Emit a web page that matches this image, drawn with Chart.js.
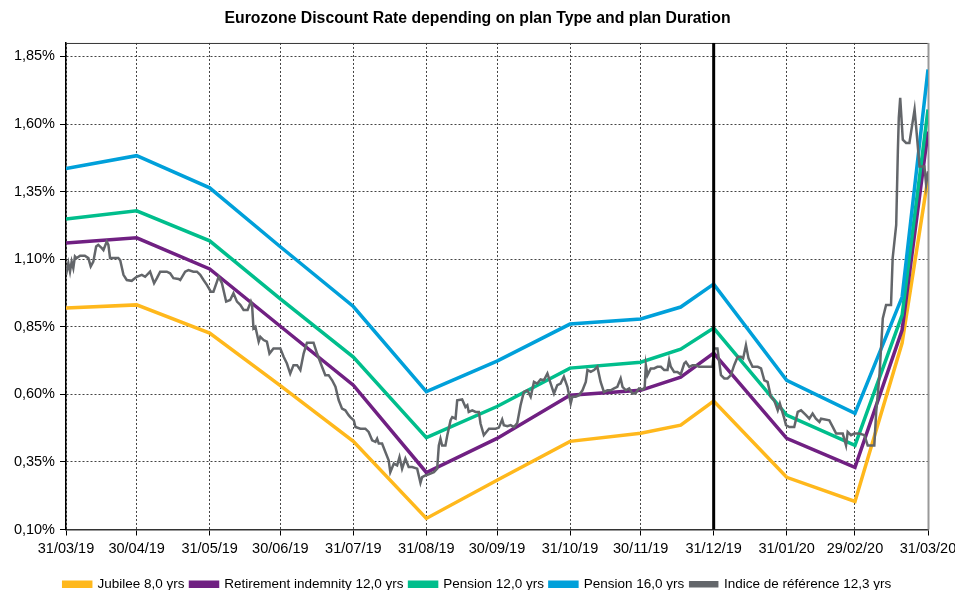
<!DOCTYPE html>
<html>
<head>
<meta charset="utf-8">
<script src="https://cdn.jsdelivr.net/npm/chart.js@4"></script>
<style>
  html, body { margin: 0; padding: 0; background: #fff; }
  #wrap { width: 955px; height: 590px; }
</style>
</head>
<body>
<div id="wrap"><canvas id="rateChart" width="955" height="590"></canvas></div>
<script>
// x values are days counted from 31/03/19
const monthDays = [0, 30, 61, 91, 122, 153, 183, 214, 244, 275, 306, 335, 366];
const monthLabels = ['31/03/19', '30/04/19', '31/05/19', '30/06/19', '31/07/19', '31/08/19', '30/09/19',
    '31/10/19', '30/11/19', '31/12/19', '31/01/20', '29/02/20', '31/03/20'];
const yTicks = [0.10, 0.35, 0.60, 0.85, 1.10, 1.35, 1.60, 1.85];
const closingDay = 275; // 31/12/19 marker

// curves by plan type
const curveDays = [0, 30, 61, 91, 122, 153, 183, 214, 244, 261, 275, 306, 335, 355, 366];
const jubilee = [0.919, 0.931, 0.827, 0.632, 0.426, 0.141, 0.282, 0.426, 0.456, 0.486, 0.575, 0.293, 0.204, 0.790, 1.401];
const retirement = [1.160, 1.179, 1.064, 0.852, 0.634, 0.311, 0.437, 0.597, 0.615, 0.664, 0.753, 0.437, 0.330, 0.838, 1.572];
const pension12 = [1.249, 1.279, 1.168, 0.953, 0.738, 0.440, 0.555, 0.697, 0.719, 0.767, 0.845, 0.523, 0.411, 0.893, 1.654];
const pension16 = [1.435, 1.483, 1.364, 1.146, 0.925, 0.610, 0.723, 0.860, 0.879, 0.923, 1.008, 0.652, 0.530, 0.960, 1.802];

// reference index (daily)
const refDays = [0, 1.0, 1.7, 2.4, 3.1, 3.8, 4.5, 6.0, 8.0, 9.5, 10.5, 11.6, 12.8, 13.7, 15.2, 15.9, 17.3, 18.0, 18.7, 22.2,
    23.0, 24.4, 25.8, 27.9, 30.0, 32.2, 33.6, 35.7, 37.4, 38.6, 40.0, 42.8, 44.2, 45.6, 47.8, 48.5, 50.6, 52.0, 54.1, 55.6,
    57.0, 58.4, 59.8, 61.5, 62.6, 64.1, 64.8, 66.2, 68.0, 69.7, 71.1, 72.6, 74.0, 75.4, 77.1, 78.5, 79.0, 79.6, 80.4, 81.8,
    82.5, 83.9, 85.3, 86.4, 88.1, 91.0, 92.4, 93.8, 95.2, 96.6, 98.1, 99.5, 100.9, 102.3, 105.1, 106.6, 108.7, 110.1, 111.5, 113.0,
    114.4, 115.8, 117.2, 118.6, 120.0, 120.7, 122.2, 122.9, 125.0, 127.1, 128.5, 130.0, 131.4, 132.1, 132.8, 134.2, 135.6, 137.0, 137.7, 139.2,
    140.6, 141.6, 142.7, 144.1, 145.5, 147.0, 149.1, 150.5, 151.2, 152.6, 154.0, 156.2, 157.6, 158.3, 159.0, 159.7, 161.1, 161.9, 163.3, 164.0,
    165.4, 166.1, 168.2, 169.6, 170.4, 171.0, 172.5, 173.9, 175.3, 176.0, 177.4, 179.6, 182.4, 183.8, 185.2, 185.9, 187.4, 188.8, 190.2, 191.6,
    193.0, 194.4, 195.9, 197.3, 198.7, 200.1, 201.5, 202.9, 204.4, 205.8, 207.2, 208.6, 210.0, 211.4, 212.9, 214.3, 215.0, 216.4, 217.8, 219.3,
    220.7, 221.4, 222.8, 224.2, 225.6, 227.0, 228.4, 229.9, 231.3, 232.7, 234.1, 235.5, 236.3, 237.7, 239.1, 240.5, 241.9, 243.3, 244.8, 245.7,
    246.2, 246.9, 248.3, 249.7, 251.1, 252.6, 254.0, 255.4, 256.1, 256.8, 258.2, 259.6, 261.0, 262.5, 263.2, 264.6, 266.0, 267.4, 268.8, 271.0,
    274.5, 275.2, 276.6, 278.1, 279.5, 280.9, 282.3, 283.7, 285.2, 286.6, 287.5, 288.7, 289.8, 291.5, 293.7, 295.1, 296.5, 297.9, 299.3, 300.7,
    302.2, 303.1, 305.0, 305.7, 307.1, 309.2, 310.7, 312.1, 314.2, 315.6, 317.0, 318.4, 319.9, 320.6, 324.1, 325.6, 327.0, 329.8, 331.2, 331.9,
    333.3, 334.7, 336.9, 339.0, 340.4, 343.2, 344.0, 345.4, 346.8, 348.2, 350.3, 351.0, 352.5, 353.2, 353.6, 354.2, 355.3, 356.7, 358.1, 360.3,
    361.0, 362.4, 364.5, 365.2, 366.0];
const refRates = [1.042, 1.085, 1.054, 1.091, 1.067, 1.110, 1.104, 1.113, 1.113, 1.104, 1.073, 1.091, 1.147, 1.153, 1.141, 1.134, 1.165, 1.153, 1.104, 1.104,
    1.097, 1.042, 1.023, 1.020, 1.035, 1.042, 1.035, 1.054, 1.011, 1.030, 1.054, 1.054, 1.048, 1.030, 1.027, 1.023, 1.054, 1.060, 1.054, 1.054,
    1.042, 1.023, 1.005, 0.980, 0.980, 1.017, 1.035, 1.011, 0.943, 0.949, 0.974, 0.943, 0.931, 0.912, 0.912, 0.943, 0.931, 0.844, 0.850, 0.795,
    0.813, 0.801, 0.795, 0.751, 0.770, 0.770, 0.739, 0.714, 0.677, 0.708, 0.708, 0.690, 0.751, 0.791, 0.791, 0.751, 0.702, 0.671, 0.671, 0.652,
    0.628, 0.578, 0.547, 0.541, 0.523, 0.516, 0.504, 0.479, 0.473, 0.473, 0.461, 0.430, 0.424, 0.436, 0.418, 0.418, 0.387, 0.356, 0.312, 0.344,
    0.337, 0.368, 0.325, 0.362, 0.331, 0.331, 0.325, 0.273, 0.294, 0.300, 0.304, 0.312, 0.325, 0.411, 0.436, 0.411, 0.411, 0.449, 0.504, 0.516,
    0.510, 0.578, 0.581, 0.553, 0.560, 0.535, 0.541, 0.535, 0.535, 0.492, 0.449, 0.473, 0.473, 0.477, 0.507, 0.486, 0.482, 0.486, 0.479, 0.494,
    0.560, 0.609, 0.615, 0.591, 0.646, 0.640, 0.655, 0.652, 0.677, 0.640, 0.603, 0.634, 0.640, 0.665, 0.628, 0.566, 0.591, 0.591, 0.597, 0.615,
    0.646, 0.690, 0.683, 0.690, 0.702, 0.646, 0.609, 0.615, 0.615, 0.622, 0.628, 0.659, 0.628, 0.615, 0.622, 0.603, 0.605, 0.622, 0.618, 0.625,
    0.708, 0.671, 0.696, 0.696, 0.702, 0.702, 0.690, 0.690, 0.727, 0.702, 0.683, 0.683, 0.674, 0.714, 0.720, 0.702, 0.708, 0.708, 0.702, 0.702,
    0.702, 0.770, 0.770, 0.671, 0.659, 0.659, 0.671, 0.708, 0.739, 0.739, 0.733, 0.782, 0.733, 0.702, 0.702, 0.696, 0.652, 0.646, 0.591, 0.578,
    0.541, 0.566, 0.510, 0.486, 0.479, 0.479, 0.535, 0.541, 0.523, 0.510, 0.529, 0.510, 0.498, 0.510, 0.504, 0.479, 0.455, 0.455, 0.411, 0.461,
    0.449, 0.455, 0.455, 0.449, 0.411, 0.411, 0.535, 0.671, 0.881, 0.931, 0.931, 1.104, 1.227, 1.499, 1.623, 1.697, 1.542, 1.530, 1.530, 1.654,
    1.586, 1.443, 1.443, 1.375, 1.425];

const FONT = 'Arial, "Liberation Sans", sans-serif';

function toPoints(days, values) {
    return days.map((d, i) => ({ x: d, y: values[i] }));
}

function series(label, days, values, color, width, order) {
    return {
        label: label,
        data: toPoints(days, values),
        borderColor: color,
        backgroundColor: color,
        borderWidth: width,
        pointRadius: 0,
        tension: 0,
        order: order
    };
}

// plot frame + 31/12/19 closing line
const framePlugin = {
    id: 'frame',
    beforeDatasetsDraw(chart) {
        const { ctx, chartArea: a } = chart;
        ctx.save();
        ctx.strokeStyle = '#333';
        ctx.lineWidth = 1;
        ctx.beginPath();
        ctx.moveTo(a.left, a.top + 0.5);
        ctx.lineTo(a.right, a.top + 0.5);
        ctx.stroke();
        ctx.strokeStyle = '#999';
        ctx.lineWidth = 2;
        ctx.beginPath();
        ctx.moveTo(a.right + 0.5, a.top);
        ctx.lineTo(a.right + 0.5, a.bottom);
        ctx.stroke();
        ctx.restore();
    },
    afterDatasetsDraw(chart) {
        const { ctx, chartArea: a, scales } = chart;
        const x = scales.x.getPixelForValue(closingDay);
        ctx.save();
        ctx.strokeStyle = '#000';
        ctx.lineWidth = 3;
        ctx.beginPath();
        ctx.moveTo(x, a.top);
        ctx.lineTo(x, a.bottom);
        ctx.stroke();
        ctx.restore();
    }
};

const ctx = document.getElementById('rateChart').getContext('2d');
const rateChart = new Chart(ctx, {
    type: 'line',
    data: {
        datasets: [
            series('Jubilee 8,0 yrs', curveDays, jubilee, '#FFB81C', 3.5, 5),
            series('Retirement indemnity 12,0 yrs', curveDays, retirement, '#702082', 3.5, 4),
            series('Pension 12,0 yrs', curveDays, pension12, '#00BE8C', 3.5, 3),
            series('Pension 16,0 yrs', curveDays, pension16, '#00A0DA', 3.5, 2),
            series('Indice de référence 12,3 yrs', refDays, refRates, '#63666A', 2.5, 1)
        ]
    },
    options: {
        responsive: false,
        animation: false,
        layout: { padding: { left: 0, right: 0, top: 0, bottom: -11 } },
        plugins: {
            title: {
                display: true,
                text: 'Eurozone Discount Rate depending on plan Type and plan Duration',
                color: '#000',
                font: { family: FONT, size: 15.8, weight: 'bold' },
                padding: { top: 9, bottom: 15 }
            },
            legend: {
                position: 'bottom',
                labels: {
                    color: '#000',
                    font: { family: FONT, size: 13.5 },
                    boxWidth: 27,
                    boxHeight: 4,
                    padding: 6,
                    sort: (a, b) => a.datasetIndex - b.datasetIndex
                }
            },
            tooltip: { enabled: false }
        },
        scales: {
            x: {
                type: 'linear',
                min: 0,
                max: 366,
                afterBuildTicks: (scale) => { scale.ticks = monthDays.map(d => ({ value: d })); },
                afterFit: (scale) => { scale.paddingRight = 27; scale.paddingLeft = 0; scale.height = 42; },
                ticks: {
                    autoSkip: false,
                    maxRotation: 0,
                    padding: 5,
                    color: '#000',
                    font: { family: FONT, size: 14.5 },
                    callback: (value, index) => monthLabels[index]
                },
                grid: { color: '#444', lineWidth: 1, tickLength: 6, tickColor: '#000' },
                border: { display: true, color: '#333', width: 1.5, dash: [2, 2] }
            },
            y: {
                min: 0.10,
                max: 1.90,
                afterBuildTicks: (scale) => { scale.ticks = yTicks.map(v => ({ value: v })); },
                afterFit: (scale) => { scale.width = 66; },
                ticks: {
                    padding: 5,
                    color: '#000',
                    font: { family: FONT, size: 14.5 },
                    callback: (value) => value.toFixed(2).replace('.', ',') + '%'
                },
                grid: { color: '#444', lineWidth: 1, tickLength: 6, tickColor: '#000' },
                border: { display: true, color: '#000', width: 1.5, dash: [2, 2] }
            }
        }
    },
    plugins: [framePlugin]
});
</script>
</body>
</html>
